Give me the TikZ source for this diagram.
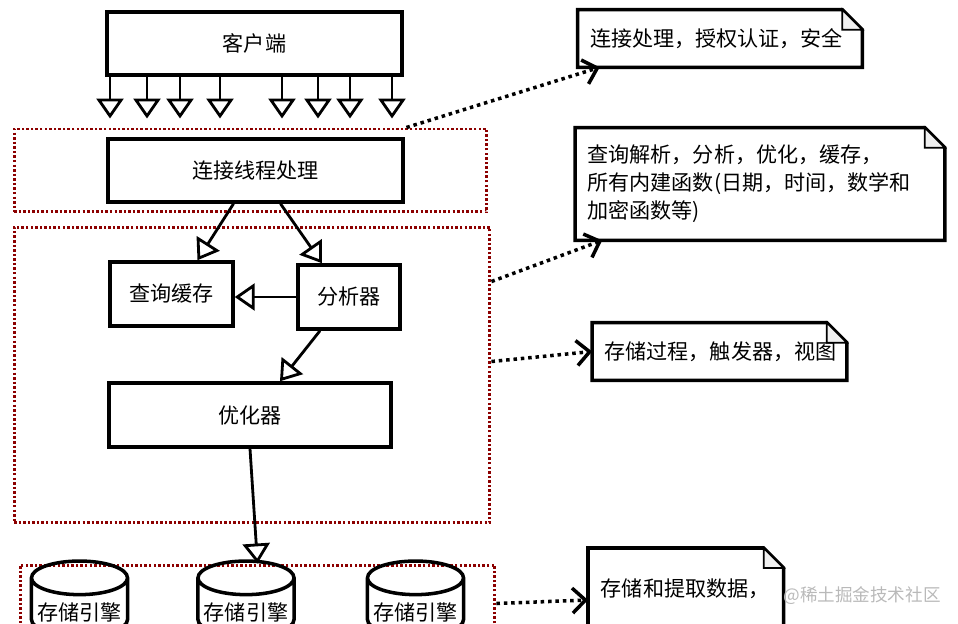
\documentclass[tikz,border=0pt]{standalone}
\usepackage{fontspec}
\newfontfamily\cjk{Noto Sans CJK SC}
\usetikzlibrary{positioning, arrows.meta, calc, shapes.geometric}

% outline of a note with a folded corner
\newcommand{\dogear}[1]{%
  \draw[line width=2pt, line join=miter] (#1.north west) -- ($(#1.north east)+(-20,0)$) -- ($(#1.north east)+(0,20)$) -- (#1.south east) -- (#1.south west) -- cycle;
  \draw[line width=1pt, fill=gray!12] ($(#1.north east)+(-20,0)$) -- ($(#1.north east)+(-20,20)$) -- ($(#1.north east)+(0,20)$) -- cycle;
}

\begin{document}
\begin{tikzpicture}[
  x=0.02cm, y=-0.02cm,
  every node/.style={font=\cjk\fontsize{12}{16}\selectfont},
  box/.style={draw, line width=2pt, minimum height=1.26cm, align=center},
  group/.style={draw=red!55!black, line width=1.7pt, dash pattern=on 1.4pt off 1.2pt},
  notebox/.style={minimum height=1.14cm, inner xsep=0.24cm, align=left},
  flow/.style={-{Triangle[length=4mm, width=5.4mm, fill=white]}, line width=1.6pt},
  dots/.style={-{Straight Barb[length=2.6mm, width=5mm]}, line width=2pt, dash pattern=on 2pt off 2.2pt},
  db/.style={cylinder, shape border rotate=90, aspect=0.35, draw, line width=2pt, minimum width=1.9cm, minimum height=1.44cm}
]
\useasboundingbox (0,0) rectangle (958,624);
\clip (0,0) rectangle (958,624);

% groups
\node[group, minimum width=9.46cm, minimum height=1.66cm] (grp1) at (250.5,170.5) {};
\node[group, minimum width=9.52cm, minimum height=5.92cm] (grp2) at (252,375) {};
\node[group, minimum width=9.5cm, minimum height=3cm] (grp3) at (257.5,640) {};

% boxes
\node[box, minimum width=5.9cm] (client) at (254.5,43.5) {客户端};
\node[box, minimum width=5.9cm] (conn) at (255.5,170.5) {连接线程处理};
\node[box, minimum width=2.46cm, minimum height=1.28cm] (qcache) at (171.5,294) {查询缓存};
\node[box, minimum width=2.04cm, minimum height=1.28cm] (parser) at (349,297) {分析器};
\node[box, minimum width=5.64cm, minimum height=1.28cm] (optim) at (250,415) {优化器};

% storage engines
\node[db] (eng1) at (79.5,612) {存储引擎};
\node[db] (eng2) at (246,612) {存储引擎};
\node[db] (eng3) at (415.5,612) {存储引擎};

% notes
\node[notebox, minimum width=5.68cm, text width=5.2cm] (note1) at (720,38.5) {连接处理，授权认证，安全};
\node[notebox, minimum width=7.28cm, minimum height=2.24cm, text width=6.9cm] (note2) at (760,184) {查询解析，分析，优化，缓存，\\所有内建函数(日期，时间，数学和\\加密函数等)};
\node[notebox, minimum width=5.02cm, text width=4.6cm] (note3) at (719.5,351.5) {存储过程，触发器，视图};
\node[notebox, anchor=north west, inner ysep=0.6cm, minimum width=3.9cm, text width=3.4cm, text depth=2cm] (note4) at (588,548) {存储和提取数据，};
\dogear{note1}
\dogear{note2}
\dogear{note3}
\dogear{note4}

\node[text=gray!55, font=\cjk\fontsize{10}{12}\selectfont] (wm) at (862,596) {@稀土掘金技术社区};

% arrows
\foreach \x in {110,147,180,220,282,318,350,392}
  \draw[flow, shorten >=0.18cm] (client.south -| \x,0) -- (grp1.north -| \x,0);
\draw[flow] ($(conn.south)+(-22,0)$) -- ($(qcache.north)+(26,0)$);
\draw[flow] ($(conn.south)+(25,0)$) -- ($(parser.north)+(-27,0)$);
\draw[flow] (parser.west) -- (parser.west -| qcache.east);
\draw[flow] ($(parser.south)+(-29,0)$) -- ($(optim.north)+(30,0)$);
\draw[flow] (optim.south) -- (grp3.north);

% dotted links to notes
\draw[dots] ($(grp1.north east)+(-82,0)$) -- ($(note1.south west)+(22,0)$);
\draw[dots] ($(grp2.north east)+(0,56)$) -- ($(note2.south west)+(27,0)$);
\draw[dots] ($(grp2.north east)+(0,136)$) -- (note3.west);
\draw[dots] ($(grp3.north east)+(0,40)$) -- ($(note4.north west)+(0,52)$);
\end{tikzpicture}
\end{document}
